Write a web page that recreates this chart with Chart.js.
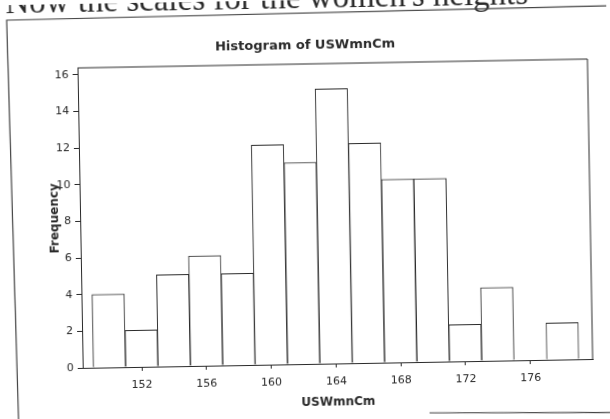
<!DOCTYPE html>
<html>
<head>
<meta charset="utf-8">
<script src="https://cdn.jsdelivr.net/npm/chart.js@4.4.0/dist/chart.umd.min.js"></script>
<style>
  html, body { margin: 0; padding: 0; background: #fff; overflow: hidden; }
  /* the scanned page is a little tilted */
  #wrap { width: 610px; height: 419px; transform: rotate(-1deg); transform-origin: 305px 209.5px; }
</style>
</head>
<body>
<div id="wrap"><canvas id="histChart" width="610" height="419"></canvas></div>
<script>
// histogram data (bins are 2 cm wide)
const binCenters = [150, 152, 154, 156, 158, 160, 162, 164, 166, 168, 170, 172, 174, 176, 178];
const counts = [4, 2, 5, 6, 5, 12, 11, 15, 12, 10, 10, 2, 4, 0, 2];
const xTickValues = [152, 156, 160, 164, 168, 172, 176];
const yTickValues = [0, 2, 4, 6, 8, 10, 12, 14, 16];

const pageText = "Now the scales for the women's heights";
const chartTitle = "Histogram of USWmnCm";
const xTitle = "USWmnCm";
const yTitle = "Frequency";

const ink = "#2a2a2a";

// frame, page text and title drawn around the chart
const scanFrame = {
  id: "scanFrame",
  beforeDraw(chart) {
    const ctx = chart.ctx;
    ctx.save();
    ctx.fillStyle = ink;
    ctx.font = '33px "Liberation Serif"';
    ctx.textAlign = "left";
    ctx.textBaseline = "alphabetic";
    ctx.fillText(pageText, 9, 8);

    ctx.font = 'bold 13px "DejaVu Sans"';
    ctx.textAlign = "center";
    ctx.textBaseline = "middle";
    ctx.fillText(chartTitle, 308, 46);

    ctx.strokeStyle = "#444";
    ctx.lineWidth = 1.2;
    ctx.beginPath();
    ctx.moveTo(15, 420);
    ctx.lineTo(10, 15);
    ctx.lineTo(614, 11);
    ctx.moveTo(426, 415);
    ctx.lineTo(612, 418);
    ctx.stroke();
    ctx.restore();
  },
  afterDraw(chart) {
    const { ctx, chartArea } = chart;
    ctx.save();
    ctx.strokeStyle = ink;
    ctx.lineWidth = 1;
    ctx.beginPath();
    ctx.moveTo(chartArea.left, chartArea.top);
    ctx.lineTo(chartArea.right, chartArea.top);
    ctx.lineTo(chartArea.right, chartArea.bottom);
    ctx.stroke();
    ctx.restore();
  }
};

const histChart = new Chart(document.getElementById("histChart"), {
  type: "bar",
  data: {
    datasets: [{
      data: binCenters.map((c, i) => ({ x: c, y: counts[i] })),
      backgroundColor: "#ffffff",
      borderColor: ink,
      borderWidth: 1,
      barPercentage: 1,
      categoryPercentage: 1
    }]
  },
  options: {
    responsive: false,
    animation: false,
    layout: { padding: { left: 48, right: 20, top: 64, bottom: 9 } },
    plugins: {
      legend: { display: false },
      tooltip: { enabled: false }
    },
    scales: {
      x: {
        type: "linear",
        min: 148.35,
        max: 179.85,
        offset: false,
        afterBuildTicks: (scale) => { scale.ticks = xTickValues.map(v => ({ value: v })); },
        afterFit: (scale) => { scale.height = 46; },
        grid: { drawOnChartArea: false, offset: false, tickLength: 4, color: ink },
        border: { color: ink, width: 1 },
        ticks: { padding: 8, color: ink, font: { family: "DejaVu Sans", size: 11 } },
        title: { display: true, text: xTitle, color: ink, padding: 0, font: { family: "DejaVu Sans", size: 12, weight: "bold" } }
      },
      y: {
        min: 0,
        max: 16.38,
        afterBuildTicks: (scale) => { scale.ticks = yTickValues.map(v => ({ value: v })); },
        afterFit: (scale) => { scale.width = 32; },
        grid: { drawOnChartArea: false, tickLength: 5, color: ink },
        border: { color: ink, width: 1 },
        ticks: { padding: 4, color: ink, font: { family: "DejaVu Sans", size: 11 } },
        title: { display: true, text: yTitle, color: ink, padding: 0, font: { family: "DejaVu Sans", size: 12, weight: "bold" } }
      }
    }
  },
  plugins: [scanFrame]
});
</script>
</body>
</html>
